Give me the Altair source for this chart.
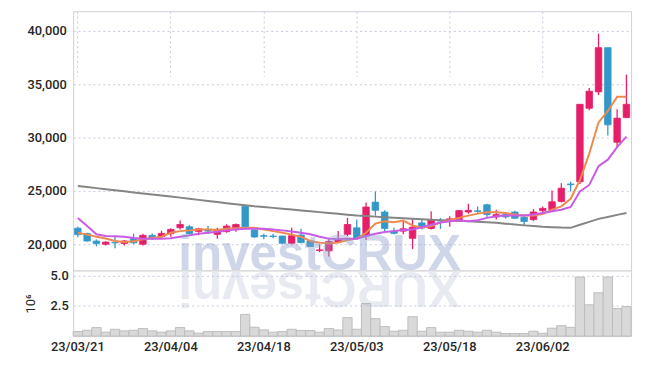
import altair as alt
import pandas as pd

dates = ["23/03/21", "23/03/22", "23/03/23", "23/03/24", "23/03/27", "23/03/28", "23/03/29", "23/03/30", "23/03/31", "23/04/03",
         "23/04/04", "23/04/05", "23/04/06", "23/04/07", "23/04/10", "23/04/11", "23/04/12", "23/04/13", "23/04/14", "23/04/17",
         "23/04/18", "23/04/19", "23/04/20", "23/04/21", "23/04/24", "23/04/25", "23/04/26", "23/04/27", "23/04/28", "23/05/02",
         "23/05/03", "23/05/04", "23/05/08", "23/05/09", "23/05/10", "23/05/11", "23/05/12", "23/05/15", "23/05/16", "23/05/17",
         "23/05/18", "23/05/19", "23/05/22", "23/05/23", "23/05/24", "23/05/25", "23/05/26", "23/05/30", "23/05/31", "23/06/01",
         "23/06/02", "23/06/05", "23/06/07", "23/06/08", "23/06/09", "23/06/12", "23/06/13", "23/06/14", "23/06/15", "23/06/16"]

opens = [21500, 21000, 20300, 20000, 20170, 20070, 20520, 20000, 20830, 20710,
         20990, 21550, 21640, 21200, 21390, 20930, 21180, 21450, 23550, 21330,
         20800, 20770, 20770, 20090, 20860, 20300, 19420, 19380, 20220, 20930,
         21540, 20770, 23950, 23020, 21230, 21230, 20555, 22000, 21480, 22250,
         22160, 22160, 23020, 23130, 23700, 22560, 22780, 23020, 22530, 22310,
         23150, 23240, 24010, 25650, 25860, 32750, 34290, 38430, 29560, 31880]
closes = [20900, 20300, 20070, 20200, 20130, 20300, 20130, 20830, 20530, 21020,
          21390, 21850, 20990, 21450, 21230, 21390, 21700, 21850, 21450, 20680,
          20750, 20720, 20090, 20800, 20150, 19790, 19470, 20250, 20400, 21850,
          20525, 23490, 23180, 21480, 21020, 21450, 21600, 21540, 22310, 22180,
          22380, 23150, 23180, 23080, 22780, 22780, 22560, 22440, 22130, 23020,
          23360, 23980, 25250, 25580, 33120, 34350, 38430, 31200, 31820, 33120]
highs = [21650, 21080, 20450, 20280, 20800, 20400, 20990, 20990, 21000, 21270,
         21510, 22220, 21790, 21540, 21700, 21540, 21880, 21950, 23550, 21450,
         20990, 20990, 20800, 21540, 21450, 20350, 20000, 20620, 21230, 22470,
         22310, 23920, 24940, 23180, 21540, 22160, 22400, 22310, 23085, 22470,
         22620, 23200, 23800, 23550, 23800, 23240, 22930, 23150, 22620, 23300,
         23550, 25030, 25710, 25860, 33150, 34660, 39750, 38430, 32650, 35900]
lows = [20650, 20250, 19800, 19880, 19620, 19870, 20000, 19890, 20400, 20590,
        20710, 21390, 20900, 20840, 20960, 20520, 21080, 21170, 21400, 20600,
        20460, 20550, 20050, 20000, 20100, 19750, 19250, 18860, 20200, 20770,
        20400, 20400, 22680, 21240, 20930, 20930, 19540, 21390, 21390, 21450,
        21640, 22100, 22870, 22870, 22500, 22310, 22400, 22380, 21760, 22190,
        22930, 23180, 23920, 24940, 25650, 32560, 33980, 30190, 29100, 31820]

ma_long = [25460, 25360, 25260, 25160, 25060, 24960, 24860, 24760, 24660, 24560,
           24470, 24370, 24270, 24160, 24060, 23960, 23850, 23750, 23650, 23560,
           23490, 23410, 23330, 23250, 23170, 23090, 23010, 22930, 22850, 22770,
           22690, 22640, 22590, 22540, 22490, 22440, 22400, 22350, 22300, 22260,
           22230, 22190, 22150, 22110, 22060, 22010, 21930, 21850, 21770, 21700,
           21640, 21600, 21560, 21540, 21830, 22100, 22380, 22560, 22750, 22930]
ma_short = [21080, 20900, 20710, 20530, 20310, 20215, 20280, 20460, 20590, 20710,
            21080, 21230, 21300, 21390, 21390, 21330, 21450, 21510, 21540, 21540,
            21390, 21230, 21080, 20900, 20710, 20310, 20150, 20065, 20150, 20400,
            20525, 21080, 21940, 22160, 22065, 22220, 21760, 21540, 21700, 22040,
            22250, 22470, 22685, 22870, 22990, 22990, 22930, 22780, 22685, 22685,
            22840, 23240, 23550, 24260, 26020, 28490, 31420, 32500, 33820, 33820]
ma_mid = [22470, 21700, 20930, 20770, 20740, 20710, 20590, 20525, 20525, 20525,
          20560, 20710, 20830, 20990, 21080, 21175, 21300, 21390, 21450, 21450,
          21450, 21380, 21300, 21190, 21080, 20930, 20710, 20525, 20460, 20525,
          20525, 20770, 20990, 21140, 21230, 21330, 21390, 21600, 21820, 22040,
          22160, 22250, 22160, 22250, 22470, 22620, 22685, 22685, 22685, 22780,
          22930, 23085, 23240, 23490, 24940, 25560, 27310, 27930, 29100, 30090]

volume_m = [0.37, 0.48, 0.70, 0.32, 0.56, 0.43, 0.48, 0.62, 0.43, 0.32,
            0.43, 0.70, 0.43, 0.24, 0.37, 0.37, 0.37, 0.37, 1.79, 0.73,
            0.51, 0.32, 0.37, 0.56, 0.46, 0.46, 0.32, 0.62, 0.50, 1.52,
            0.56, 2.69, 1.44, 0.78, 0.40, 0.48, 1.60, 0.40, 0.70, 0.32,
            0.32, 0.48, 0.40, 0.32, 0.48, 0.32, 0.21, 0.21, 0.21, 0.40,
            0.23, 0.65, 0.86, 0.72, 4.87, 2.58, 3.57, 4.87, 2.27, 2.43]

tick_dates = ["23/03/21", "23/04/04", "23/04/18", "23/05/03", "23/05/18", "23/06/02"]
price_ticks = [20000, 25000, 30000, 35000, 40000]
volume_ticks = [2.5, 5.0]

df = pd.DataFrame({"date": dates, "open": opens, "high": highs, "low": lows, "close": closes,
                   "ma_long": ma_long, "ma_short": ma_short, "ma_mid": ma_mid, "volume": volume_m})

FONT = "Roboto"
UP = "#e61e6a"
DOWN = "#3398c8"
TXT = "#262626"

W = 565
PRICE_H = 263
TOTAL_H = 329

xenc = alt.X("date:O", sort=dates, scale=alt.Scale(paddingInner=0, paddingOuter=0), title=None,
             axis=alt.Axis(values=tick_dates, ticks=False, domain=False, grid=True, bandPosition=0.5,
                           labelAngle=0, labelFont=FONT, labelFontSize=13, labelFontWeight=500,
                           labelColor=TXT, labelPadding=5))

yscale = alt.Scale(domain=[17500, 41850], range=[PRICE_H, 0], zero=False, nice=False)
yaxis = alt.Axis(values=price_ticks, format=",.0f", ticks=False, domain=False, grid=True, orient="left",
                 labelFont=FONT, labelFontSize=13, labelFontWeight=500, labelColor=TXT, labelPadding=7, title=None)

def yenc(field):
    return alt.Y(field, scale=yscale, axis=yaxis, title=None)

vscale = alt.Scale(domain=[0, 5.38], range=[TOTAL_H, PRICE_H], nice=False, zero=True)
vaxis = alt.Axis(values=volume_ticks, format=".1f", title="10⁶", ticks=False, domain=False, grid=True,
                 orient="left", labelFont=FONT, labelFontSize=13, labelFontWeight=500, labelColor=TXT,
                 labelPadding=5, titleFont=FONT, titleFontSize=13, titleFontWeight="normal",
                 titleColor=TXT, titlePadding=13)

cond = alt.condition("datum.close >= datum.open", alt.value(UP), alt.value(DOWN))

base = alt.Chart(df)
vol_bars = base.mark_bar(fill="#d9d9d9", stroke="#bdbdbd", strokeWidth=1).encode(
    x=xenc, y=alt.Y("volume:Q", scale=vscale, axis=vaxis))
wick = base.mark_rule(strokeWidth=1.3).encode(
    x=xenc, y=yenc("low:Q"), y2="high:Q", color=cond)
body = base.mark_bar(width=alt.RelativeBandSize(0.7), strokeWidth=0.8).encode(
    x=xenc, y=yenc("open:Q"), y2="close:Q", fill=cond, stroke=cond)
l_long = base.mark_line(color="#858585", strokeWidth=2).encode(x=xenc, y=yenc("ma_long:Q"))
l_short = base.mark_line(color="#ef8a4e", strokeWidth=2).encode(x=xenc, y=yenc("ma_short:Q"))
l_mid = base.mark_line(color="#c95be6", strokeWidth=2).encode(x=xenc, y=yenc("ma_mid:Q"))

price_layer = alt.layer(wick, body, l_long, l_short, l_mid)

wm = alt.Chart(pd.DataFrame({"t": ["investCRUX"]})).mark_text(
    font="Liberation Sans", fontWeight="bold", fontSize=50, color="#8f9fcc", opacity=0.42,
    align="center", baseline="alphabetic").encode(text="t:N", x=alt.value(249.5), y=alt.value(PRICE_H - 1))
refl = alt.Chart(pd.DataFrame({"t": ["XURCtsevni"]})).mark_text(
    font="Liberation Sans", fontWeight="bold", fontSize=50, color="#a7b0cc", opacity=0.25, angle=180,
    align="center", baseline="alphabetic").encode(text="t:N", x=alt.value(249.5), y=alt.value(PRICE_H + 1))
sep = alt.Chart(pd.DataFrame({"t": [0]})).mark_rule(color="#c2c3cb", strokeWidth=1).encode(
    x=alt.value(0), x2=alt.value(W), y=alt.value(PRICE_H))

chart = alt.layer(vol_bars, price_layer, wm, refl, sep).resolve_scale(
    y="independent").resolve_axis(y="independent").properties(
    width=W, height=TOTAL_H,
    padding={"left": 16, "top": 1, "right": 5, "bottom": 5}
).configure_view(stroke="#cfd0d8").configure_axis(
    gridColor="#c6c9de", gridDash=[2, 3], gridWidth=1
)

chart.save("out.html", embed_options={"renderer": "svg", "actions": False})
